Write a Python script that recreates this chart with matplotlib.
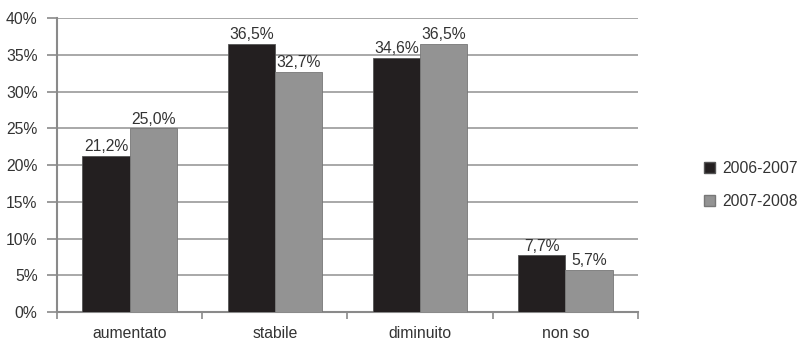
import numpy as np
import matplotlib
matplotlib.use("Agg")
import matplotlib.pyplot as plt
from matplotlib.patches import Patch

plt.rcParams['font.family'] = ['Liberation Sans', 'DejaVu Sans']

categories = ["aumentato", "stabile", "diminuito", "non so"]
series_names = ["2006-2007", "2007-2008"]
values_0607 = [21.2, 36.5, 34.6, 7.7]
values_0708 = [25.0, 32.7, 36.5, 5.7]
yticks = [0, 5, 10, 15, 20, 25, 30, 35, 40]

col_dark = "#231f20"
col_grey = "#939393"
axis_col = "#8a8a8a"
fs = 11.3

fig = plt.figure(figsize=(7.97, 3.49), dpi=100)
ax = fig.add_axes([0.0715, 0.106, 0.729, 0.842])

x = np.arange(len(categories))
w = 0.325
b1 = ax.bar(x - w / 2, values_0607, w, color=col_dark, edgecolor="#555555", linewidth=0.6, zorder=3)
b2 = ax.bar(x + w / 2, values_0708, w, color=col_grey, edgecolor="#777777", linewidth=0.6, zorder=3)

for bars, vals in [(b1, values_0607), (b2, values_0708)]:
    for r, v in zip(bars, vals):
        ax.text(r.get_x() + r.get_width() / 2, v + 0.25, ("%.1f%%" % v).replace(".", ","),
                ha="center", va="bottom", fontsize=fs, color="#333333", zorder=4)

ax.set_xlim(-0.5, len(categories) - 0.5)
ax.set_ylim(0, 40)
ax.set_yticks(yticks)
ax.set_yticklabels(["%d%%" % t for t in yticks])
ax.yaxis.grid(True, color="#9a9a9a", linewidth=1.2, zorder=0)
ax.set_xticks(x)
ax.set_xticklabels(categories)
ax.set_xticks(np.arange(len(categories) + 1) - 0.5, minor=True)
ax.tick_params(axis="x", which="major", length=0, pad=10, labelsize=fs, labelcolor="#333333")
ax.tick_params(axis="x", which="minor", length=5, color=axis_col, width=1.2)
ax.tick_params(axis="y", length=7, color=axis_col, width=1.2, labelsize=fs, labelcolor="#333333", pad=7)

for s in ["top", "right"]:
    ax.spines[s].set_visible(False)
for s in ["left", "bottom"]:
    ax.spines[s].set_color(axis_col)
    ax.spines[s].set_linewidth(1.5)

handles = [Patch(facecolor=col_dark, edgecolor="#555555"), Patch(facecolor=col_grey, edgecolor="#777777")]
fig.legend(handles, series_names, loc="center left", bbox_to_anchor=(0.865, 0.47),
           frameon=False, fontsize=fs, handlelength=0.7, handleheight=0.7,
           handletextpad=0.5, labelspacing=1.1, labelcolor="#333333")

fig.savefig("out.png", dpi=100)
